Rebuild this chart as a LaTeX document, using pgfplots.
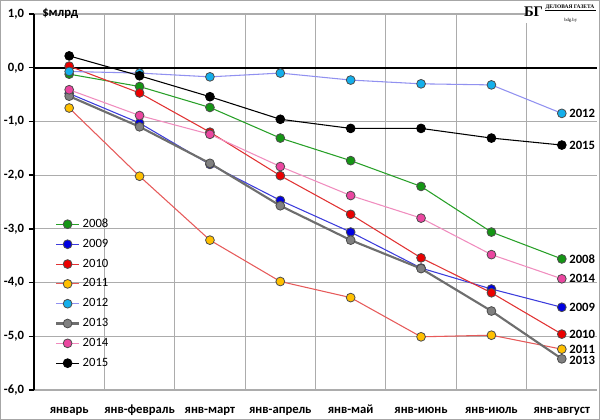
\documentclass[border=0pt]{standalone}
\usepackage{fontspec}
\setmainfont{Carlito}
\newfontfamily\logofont{Liberation Serif}
\usepackage{pgfplots}
\pgfplotsset{compat=1.18}
\definecolor{cG}{RGB}{20,150,20}
\definecolor{cGl}{RGB}{40,160,40}
\definecolor{cB}{RGB}{0,0,225}
\definecolor{cBl}{RGB}{60,60,220}
\definecolor{cR}{RGB}{235,0,0}
\definecolor{cRl}{RGB}{225,50,50}
\definecolor{cO}{RGB}{255,192,0}
\definecolor{cOl}{RGB}{230,90,90}
\definecolor{cC}{RGB}{20,175,235}
\definecolor{cCl}{RGB}{145,145,240}
\definecolor{cK}{RGB}{128,128,128}
\definecolor{cKl}{RGB}{110,110,110}
\definecolor{cP}{RGB}{235,70,160}
\definecolor{cPl}{RGB}{240,140,190}
\begin{document}
\begin{tikzpicture}
\path[use as bounding box] (0,0) rectangle (450pt,315pt);
\begin{axis}[
  at={(25.5pt,22.5pt)}, anchor=south west,
  scale only axis, width=422.25pt, height=282pt,
  xmin=-0.5, xmax=7.5, ymin=-6, ymax=1,
  xtick={0,...,7},
  xticklabels={январь,янв-февраль,янв-март,янв-апрель,янв-май,янв-июнь,янв-июль,янв-август},
  minor xtick={0.5,1.5,...,6.5},
  xminorgrids, ymajorgrids,
  ytick={-6,...,1},
  grid style={gray!65, line width=0.8pt},
  minor grid style={gray!65, line width=0.8pt},
  axis lines*=left,
  x axis line style={draw=none},
  y axis line style={black, line width=1.6pt},
  xtick style={draw=none},
  ytick style={black, line width=1pt},
  tick align=outside,
  major tick length=4pt,
  ticklabel style={font=\bfseries\fontsize{9.5}{11}\selectfont},
  xticklabel style={anchor=north, text height=1.6ex, text depth=0.5ex, yshift=-2.5pt},
  /pgf/number format/.cd, fixed, fixed zerofill, precision=1, use comma, assume math mode=true,
  /pgfplots/.cd,
  legend style={at={(0.03,0.47)}, anchor=north west, draw=none, fill=none,
    font=\fontsize{9.5}{11}\selectfont, row sep=3.2pt},
  legend cell align=left,
  every axis plot/.append style={mark=*, mark size=3.3pt},
  clip=false,
]
\draw[black, line width=1.6pt] (axis cs:-0.5,0) -- (axis cs:7.5,0);
\addplot[cGl, line width=0.8pt, mark options={fill=cG, draw=black!70, line width=0.6pt}] coordinates {(0,-0.12)(1,-0.35)(2,-0.74)(3,-1.31)(4,-1.73)(5,-2.21)(6,-3.06)(7,-3.56)};
\addlegendentry{2008}
\addplot[cBl, line width=0.8pt, mark options={fill=cB, draw=black!70, line width=0.6pt}] coordinates {(0,-0.48)(1,-1.03)(2,-1.80)(3,-2.47)(4,-3.06)(5,-3.73)(6,-4.12)(7,-4.46)};
\addlegendentry{2009}
\addplot[cRl, line width=0.8pt, mark options={fill=cR, draw=black!70, line width=0.6pt}] coordinates {(0,0.03)(1,-0.47)(2,-1.20)(3,-2.01)(4,-2.73)(5,-3.54)(6,-4.19)(7,-4.96)};
\addlegendentry{2010}
\addplot[cOl, line width=0.8pt, mark options={fill=cO, draw=black!70, line width=0.6pt}] coordinates {(0,-0.75)(1,-2.02)(2,-3.21)(3,-3.98)(4,-4.28)(5,-5.01)(6,-4.98)(7,-5.24)};
\addlegendentry{2011}
\addplot[cCl, line width=0.8pt, mark options={fill=cC, draw=black!70, line width=0.6pt}] coordinates {(0,-0.07)(1,-0.10)(2,-0.17)(3,-0.10)(4,-0.23)(5,-0.30)(6,-0.32)(7,-0.85)};
\addlegendentry{2012}
\addplot[cKl, line width=1.6pt, mark options={fill=cK, draw=black!70, line width=0.6pt}] coordinates {(0,-0.53)(1,-1.10)(2,-1.78)(3,-2.57)(4,-3.21)(5,-3.74)(6,-4.53)(7,-5.42)};
\addlegendentry{2013}
\addplot[cPl, line width=0.8pt, mark options={fill=cP, draw=black!70, line width=0.6pt}] coordinates {(0,-0.41)(1,-0.89)(2,-1.24)(3,-1.84)(4,-2.38)(5,-2.80)(6,-3.48)(7,-3.93)};
\addlegendentry{2014}
\addplot[black, line width=0.8pt, mark options={fill=black, draw=black, line width=0.6pt}] coordinates {(0,0.22)(1,-0.15)(2,-0.54)(3,-0.96)(4,-1.13)(5,-1.13)(6,-1.31)(7,-1.44)};
\addlegendentry{2015}
\begin{scope}[every node/.style={anchor=west, inner sep=1pt, xshift=4.5pt, font=\bfseries\fontsize{9.5}{11}\selectfont}]
\node at (axis cs:7,-0.85) {2012};
\node at (axis cs:7,-1.45) {2015};
\node at (axis cs:7,-3.56) {2008};
\node at (axis cs:7,-3.92) {2014};
\node at (axis cs:7,-4.46) {2009};
\node at (axis cs:7,-4.96) {2010};
\node at (axis cs:7,-5.24) {2011};
\node at (axis cs:7,-5.44) {2013};
\end{scope}
\end{axis}
\node[anchor=west, inner sep=0pt, font=\bfseries\fontsize{9.5}{11}\selectfont] at (31.5pt,305pt) {\$млрд};
\fill[white] (394.5pt,297.5pt) rectangle (448.5pt,313.5pt);
\node[anchor=east, inner sep=0pt, font=\logofont\bfseries\fontsize{11}{11}\selectfont] at (407.5pt,306pt) {БГ};
\node[anchor=base west, inner sep=0pt, font=\logofont\bfseries\fontsize{4.1}{5}\selectfont] at (409pt,308.5pt) {ДЕЛОВАЯ ГАЗЕТА};
\draw[black, line width=0.3pt] (409pt,307.6pt) -- (447pt,307.6pt);
\node[anchor=base, inner sep=0pt, font=\logofont\fontsize{3.5}{4}\selectfont] at (428pt,299pt) {bdg.by};
\draw[gray!70, line width=1.1pt] (0.55pt,0.55pt) rectangle (449.45pt,314.45pt);
\end{tikzpicture}
\end{document}
